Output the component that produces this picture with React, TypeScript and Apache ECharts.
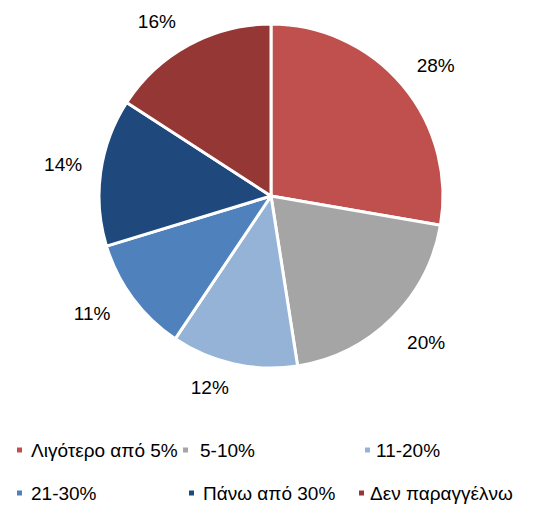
import React, { useEffect, useRef } from "react";
import * as echarts from "echarts";

const categories = ["Λιγότερο από 5%", "5-10%", "11-20%", "21-30%", "Πάνω από 30%", "Δεν παραγγέλνω"];
const values = [28, 20, 12, 11, 14, 16];
const colors = ["#C0504D", "#A5A5A5", "#95B3D7", "#4F81BD", "#1F497D", "#953735"];

// layout: legend [marker left, row center y, text padding]
const legendPos: [number, number, number][] = [
  [15, 450, 3],
  [181, 450, 6],
  [363, 450, 0],
  [15, 493, 3],
  [187, 493, 3],
  [357, 493, 0],
];
// layout: small label nudges (best-fit placement as in the source)
const labelNudge: [number, number][] = [
  [1, 7],
  [5, -6],
  [-15, -17],
  [-7, -10],
  [4, -2],
  [-12, 14],
];

const FONT = "Liberation Sans, Arial, sans-serif";

export default function App() {
  const ref = useRef<HTMLDivElement>(null);
  useEffect(() => {
    document.body.style.margin = "0";
    const chart = echarts.init(ref.current!, undefined, { renderer: "svg" });
    const data = categories.map((name, i) => ({ name, value: values[i], itemStyle: { color: colors[i] } }));
    chart.setOption({
      animation: false,
      backgroundColor: "#fff",
      legend: categories.map((name, i) => ({
        data: [name],
        left: legendPos[i][0],
        top: legendPos[i][1] - 10,
        icon: "rect",
        itemWidth: 7,
        itemHeight: 7,
        padding: 0,
        selectedMode: false,
        textStyle: {
          fontFamily: FONT,
          fontSize: 19,
          lineHeight: 20,
          color: "#000",
          padding: [0, 0, 0, legendPos[i][2]],
        },
      })),
      series: [
        {
          type: "pie",
          center: [271, 196],
          radius: [0, 172],
          startAngle: 90,
          clockwise: true,
          label: { show: false },
          labelLine: { show: false },
          itemStyle: { borderColor: "#fff", borderWidth: 3 },
          emphasis: { disabled: true },
          data,
        },
        {
          type: "pie",
          center: [271, 196],
          radius: [190, 232],
          startAngle: 90,
          clockwise: true,
          silent: true,
          itemStyle: { color: "rgba(0,0,0,0)", borderWidth: 0 },
          label: {
            show: true,
            position: "inside",
            formatter: "{c}%",
            fontFamily: FONT,
            fontSize: 19,
            color: "#000",
          },
          labelLine: { show: false },
          emphasis: { disabled: true },
          data: categories.map((name, i) => ({
            name,
            value: values[i],
            label: { offset: labelNudge[i] },
          })),
        },
      ],
    });
    return () => chart.dispose();
  }, []);
  return <div ref={ref} style={{ width: 539, height: 506 }} />;
}
